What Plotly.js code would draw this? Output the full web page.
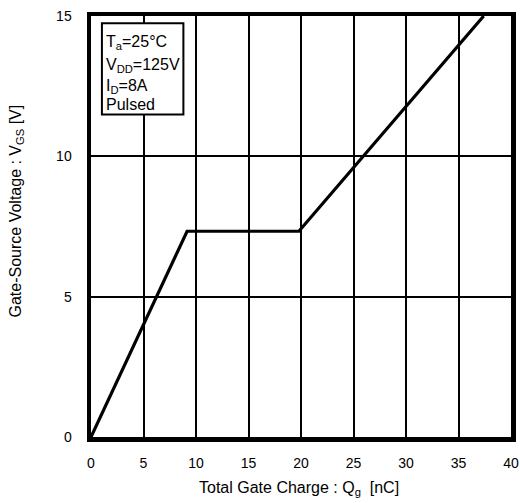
<!DOCTYPE html>
<html>
<head>
<meta charset="utf-8">
<script src="https://cdn.plot.ly/plotly-3.0.1.min.js"></script>
<style>
html,body{margin:0;padding:0;background:#fff;}
#chart{width:520px;height:503px;}
</style>
</head>
<body>
<div id="chart"></div>
<script>
// Data
const gateCharge = [0, 9.15, 19.8, 37.4];      // Qg [nC]
const gateVoltage = [0, 7.33, 7.33, 15];       // VGS [V]
const xTicks = [0, 5, 10, 15, 20, 25, 30, 35, 40];
const yTicks = [0, 5, 10, 15];
const conditions = ["T<sub>a</sub>=25°C", "V<sub>DD</sub>=125V", "I<sub>D</sub>=8A", "Pulsed"];
const conditionY = [14.05, 13.24, 12.48, 11.86];

const FONT = "Liberation Sans, Arial, sans-serif";

const trace = {
  x: gateCharge,
  y: gateVoltage,
  mode: "lines",
  line: {color: "#000", width: 3.2},
  hoverinfo: "skip",
  showlegend: false
};

const condAnnotations = conditions.map((t, i) => ({
  xref: "x", yref: "y", x: 1.2, y: conditionY[i],
  xanchor: "left", yanchor: "middle", align: "left",
  text: t, showarrow: false,
  font: {family: FONT, size: 16, color: "#000"}
}));

const layout = {
  width: 520,
  height: 503,
  margin: {l: 91, r: 9, t: 16, b: 66, pad: 0},
  paper_bgcolor: "#fff",
  plot_bgcolor: "#fff",
  font: {family: FONT, color: "#000", size: 14},
  showlegend: false,
  xaxis: {
    range: [0, 40],
    tickvals: xTicks,
    ticktext: xTicks.map(String),
    showgrid: true,
    gridcolor: "#000",
    gridwidth: 2,
    zeroline: false,
    showline: true,
    linecolor: "#000",
    linewidth: 4.5,
    mirror: true,
    ticks: "",
    ticklabelstandoff: 10,
    tickfont: {family: FONT, size: 14, color: "#000"},
    fixedrange: true
  },
  yaxis: {
    range: [0, 15],
    tickvals: yTicks,
    ticktext: yTicks.map(String),
    showgrid: true,
    gridcolor: "#000",
    gridwidth: 2,
    zeroline: false,
    showline: true,
    linecolor: "#000",
    linewidth: 4.5,
    mirror: true,
    ticks: "",
    ticklabelstandoff: 12,
    tickfont: {family: FONT, size: 14, color: "#000"},
    fixedrange: true
  },
  shapes: [
    {
      type: "rect", xref: "x", yref: "y",
      x0: 1.04, x1: 8.8, y0: 11.49, y1: 14.74,
      line: {color: "#000", width: 2},
      fillcolor: "#fff",
      layer: "above"
    }
  ],
  annotations: condAnnotations.concat([
    {
      xref: "paper", yref: "paper", x: 0.5, y: 0,
      xanchor: "center", yanchor: "middle", yshift: -51, xshift: -2,
      text: "Total Gate Charge : Q<sub>g</sub>\u00a0 [nC]",
      showarrow: false,
      font: {family: FONT, size: 16, color: "#000"}
    },
    {
      xref: "paper", yref: "paper", x: 0, y: 0.5,
      xanchor: "center", yanchor: "middle", xshift: -75, yshift: 15,
      textangle: -90,
      text: "Gate-Source Voltage : V<sub>GS</sub> [V]",
      showarrow: false,
      font: {family: FONT, size: 16, color: "#000"}
    }
  ])
};

Plotly.newPlot("chart", [trace], layout, {displayModeBar: false, staticPlot: true});
</script>
</body>
</html>
